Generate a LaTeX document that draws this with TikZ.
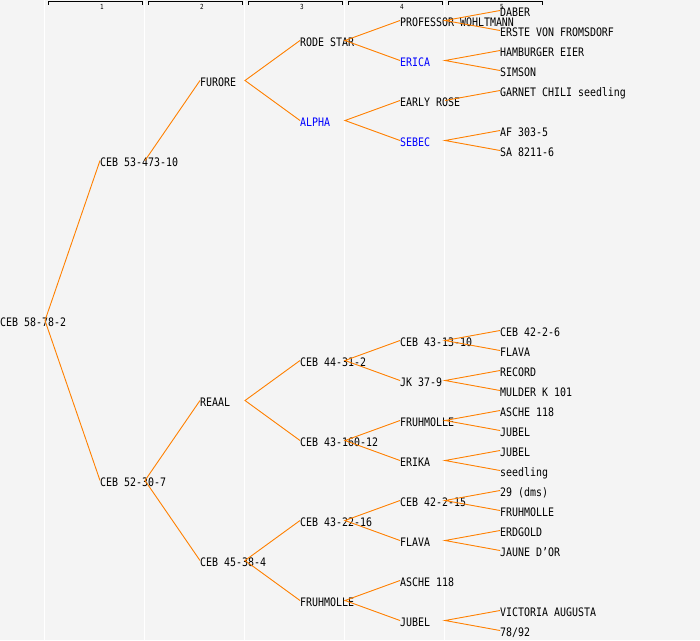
\documentclass[tikz,border=0pt]{standalone}
\usepackage{fontspec}
\newfontfamily\pedfont[FakeStretch=0.85]{DejaVu Sans Mono}
\definecolor{linkorange}{HTML}{FF8000}
\definecolor{bggray}{HTML}{F4F4F4}
\definecolor{pedblue}{HTML}{0000FF}
\tikzset{
	plant/.style={anchor=west,inner sep=0pt,text height=11pt,text depth=0pt,
		font=\pedfont\fontsize{11.7}{12}\selectfont},
	marked/.style={plant,text=pedblue},
	link/.style={draw=linkorange,line width=0.9pt},
	gencol/.style={font=\pedfont\fontsize{7}{8}\selectfont,inner sep=0pt},
}
\begin{document}
\begin{tikzpicture}[x=1pt,y=-1pt]
		% background
		\fill[bggray] (0,0) rectangle (700,640);
		\useasboundingbox (0,0) rectangle (700,640);
		% column separators
		\draw[white,line width=1pt] (44.5,0) -- (44.5,640);
		\draw[white,line width=1pt] (144.5,0) -- (144.5,640);
		\draw[white,line width=1pt] (244.5,0) -- (244.5,640);
		\draw[white,line width=1pt] (344.5,0) -- (344.5,640);
		\draw[white,line width=1pt] (444.5,0) -- (444.5,640);
		% generation header
		\draw[line width=0.9pt] (48,4.5) -- (48,1.5) -- (142,1.5) -- (142,4.5);
		\draw[line width=0.9pt] (148,4.5) -- (148,1.5) -- (242,1.5) -- (242,4.5);
		\draw[line width=0.9pt] (248,4.5) -- (248,1.5) -- (342,1.5) -- (342,4.5);
		\draw[line width=0.9pt] (348,4.5) -- (348,1.5) -- (442,1.5) -- (442,4.5);
		\draw[line width=0.9pt] (448,4.5) -- (448,1.5) -- (542,1.5) -- (542,4.5);
		\node[gencol] (h1) at (102,6.5) {1};
		\node[gencol] (h2) at (202,6.5) {2};
		\node[gencol] (h3) at (302,6.5) {3};
		\node[gencol] (h4) at (402,6.5) {4};
		\node[gencol] (h5) at (502,6.5) {5};
		% generation 0 and 1
		\node[plant] (n1) at (0,320.5) {CEB 58-78-2};
		\node[plant] (n2) at (100,160.5) {CEB 53-473-10};
		\node[plant] (n3) at (100,480.5) {CEB 52-30-7};
		% generation 2
		\node[plant] (n4) at (200,80.5) {FURORE};
		\node[plant] (n6) at (200,400.5) {REAAL};
		\node[plant] (n7) at (200,560.5) {CEB 45-38-4};
		% generation 3
		\node[plant] (n8) at (300,40.5) {RODE STAR};
		\node[marked] (n9) at (300,120.5) {ALPHA};
		\node[plant] (n12) at (300,360.5) {CEB 44-31-2};
		\node[plant] (n13) at (300,440.5) {CEB 43-160-12};
		\node[plant] (n14) at (300,520.5) {CEB 43-22-16};
		\node[plant] (n15) at (300,600.5) {FRUHMOLLE};
		% generation 4
		\node[plant] (n16) at (400,20.5) {PROFESSOR WOHLTMANN};
		\node[marked] (n17) at (400,60.5) {ERICA};
		\node[plant] (n18) at (400,100.5) {EARLY ROSE};
		\node[marked] (n19) at (400,140.5) {SEBEC};
		\node[plant] (n24) at (400,340.5) {CEB 43-13-10};
		\node[plant] (n25) at (400,380.5) {JK 37-9};
		\node[plant] (n26) at (400,420.5) {FRUHMOLLE};
		\node[plant] (n27) at (400,460.5) {ERIKA};
		\node[plant] (n28) at (400,500.5) {CEB 42-2-15};
		\node[plant] (n29) at (400,540.5) {FLAVA};
		\node[plant] (n30) at (400,580.5) {ASCHE 118};
		\node[plant] (n31) at (400,620.5) {JUBEL};
		% generation 5
		\node[plant] (n32) at (500,10.5) {DABER};
		\node[plant] (n33) at (500,30.5) {ERSTE VON FROMSDORF};
		\node[plant] (n34) at (500,50.5) {HAMBURGER EIER};
		\node[plant] (n35) at (500,70.5) {SIMSON};
		\node[plant] (n36) at (500,90.5) {GARNET CHILI seedling};
		\node[plant] (n38) at (500,130.5) {AF 303-5};
		\node[plant] (n39) at (500,150.5) {SA 8211-6};
		\node[plant] (n48) at (500,330.5) {CEB 42-2-6};
		\node[plant] (n49) at (500,350.5) {FLAVA};
		\node[plant] (n50) at (500,370.5) {RECORD};
		\node[plant] (n51) at (500,390.5) {MULDER K 101};
		\node[plant] (n52) at (500,410.5) {ASCHE 118};
		\node[plant] (n53) at (500,430.5) {JUBEL};
		\node[plant] (n54) at (500,450.5) {JUBEL};
		\node[plant] (n55) at (500,470.5) {seedling};
		\node[plant] (n56) at (500,490.5) {29 (dms)};
		\node[plant] (n57) at (500,510.5) {FRUHMOLLE};
		\node[plant] (n58) at (500,530.5) {ERDGOLD};
		\node[plant] (n59) at (500,550.5) {JAUNE D’OR};
		\node[plant] (n62) at (500,610.5) {VICTORIA AUGUSTA};
		\node[plant] (n63) at (500,630.5) {78/92};
		% links to parents
		\draw[link] (n2.west) -- ([xshift=45pt]n1.west) -- (n3.west);
		\draw[link] ([xshift=45pt]n2.west) -- (n4.west);
		\draw[link] (n6.west) -- ([xshift=45pt]n3.west) -- (n7.west);
		\draw[link] (n8.west) -- ([xshift=45pt]n4.west) -- (n9.west);
		\draw[link] (n12.west) -- ([xshift=45pt]n6.west) -- (n13.west);
		\draw[link] (n14.west) -- ([xshift=45pt]n7.west) -- (n15.west);
		\draw[link] (n16.west) -- ([xshift=45pt]n8.west) -- (n17.west);
		\draw[link] (n18.west) -- ([xshift=45pt]n9.west) -- (n19.west);
		\draw[link] (n24.west) -- ([xshift=45pt]n12.west) -- (n25.west);
		\draw[link] (n26.west) -- ([xshift=45pt]n13.west) -- (n27.west);
		\draw[link] (n28.west) -- ([xshift=45pt]n14.west) -- (n29.west);
		\draw[link] (n30.west) -- ([xshift=45pt]n15.west) -- (n31.west);
		\draw[link] (n32.west) -- ([xshift=45pt]n16.west) -- (n33.west);
		\draw[link] (n34.west) -- ([xshift=45pt]n17.west) -- (n35.west);
		\draw[link] ([xshift=45pt]n18.west) -- (n36.west);
		\draw[link] (n38.west) -- ([xshift=45pt]n19.west) -- (n39.west);
		\draw[link] (n48.west) -- ([xshift=45pt]n24.west) -- (n49.west);
		\draw[link] (n50.west) -- ([xshift=45pt]n25.west) -- (n51.west);
		\draw[link] (n52.west) -- ([xshift=45pt]n26.west) -- (n53.west);
		\draw[link] (n54.west) -- ([xshift=45pt]n27.west) -- (n55.west);
		\draw[link] (n56.west) -- ([xshift=45pt]n28.west) -- (n57.west);
		\draw[link] (n58.west) -- ([xshift=45pt]n29.west) -- (n59.west);
		\draw[link] (n62.west) -- ([xshift=45pt]n31.west) -- (n63.west);
	\end{tikzpicture}
\end{document}
